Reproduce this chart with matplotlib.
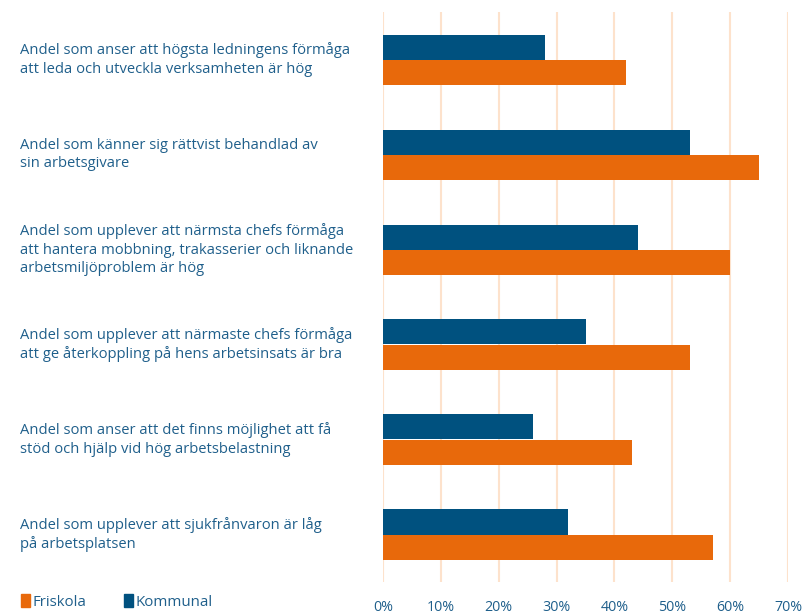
import matplotlib.pyplot as plt
import numpy as np
from matplotlib.patches import Patch

# data
labels = [
    "Andel som anser att högsta ledningens förmåga\natt leda och utveckla verksamheten är hög",
    "Andel som känner sig rättvist behandlad av\nsin arbetsgivare",
    "Andel som upplever att närmsta chefs förmåga\natt hantera mobbning, trakasserier och liknande\narbetsmiljöproblem är hög",
    "Andel som upplever att närmaste chefs förmåga\natt ge återkoppling på hens arbetsinsats är bra",
    "Andel som anser att det finns möjlighet att få\nstöd och hjälp vid hög arbetsbelastning",
    "Andel som upplever att sjukfrånvaron är låg\npå arbetsplatsen",
]
kommunal = [28, 53, 44, 35, 26, 32]
friskola = [42, 65, 60, 53, 43, 57]
ticks = [0, 10, 20, 30, 40, 50, 60, 70]

BLUE = "#00517f"
ORANGE = "#e8690b"
TEXT = "#1f5f8b"
GRID = "#fde2cc"

plt.rcParams["font.family"] = ["Open Sans", "DejaVu Sans"]

fig = plt.figure(figsize=(8.08, 6.14), dpi=100)
ax = fig.add_axes([383 / 808, 32 / 614, 405 / 808, 570 / 614])

y = np.arange(len(labels))
h = 25 / 95
ax.barh(y - h / 2, kommunal, height=h, color=BLUE, zorder=3)
ax.barh(y + h / 2, friskola, height=h, color=ORANGE, zorder=3)

ax.set_xlim(0, 70)
ax.set_ylim(5.5, -0.5)
ax.set_xticks(ticks)
ax.set_xticklabels([f"{t}%" for t in ticks], color=TEXT, fontsize=10.3)
ax.set_yticks([])
ax.tick_params(axis="x", length=0, pad=13)
ax.grid(axis="x", color=GRID, linewidth=1.5, zorder=0)
for s in ax.spines.values():
    s.set_visible(False)

# category labels on the left
for i, lab in enumerate(labels):
    ax.text(20 / 808, ax.transData.transform((0, i))[1] / fig.dpi / 6.14, lab,
            transform=fig.transFigure, ha="left", va="center",
            color=TEXT, fontsize=10.6, linespacing=1.33)

handles = [Patch(color=ORANGE, label="Friskola"), Patch(color=BLUE, label="Kommunal")]
leg = fig.legend(handles=handles, loc="lower left", bbox_to_anchor=(7 / 808, -9 / 614),
                 ncol=2, frameon=False, handlelength=0.6, handleheight=0.9,
                 handletextpad=0.2, columnspacing=2.5, prop={"size": 10.8})
for t in leg.get_texts():
    t.set_color(TEXT)

fig.savefig("out.png", dpi=100)
